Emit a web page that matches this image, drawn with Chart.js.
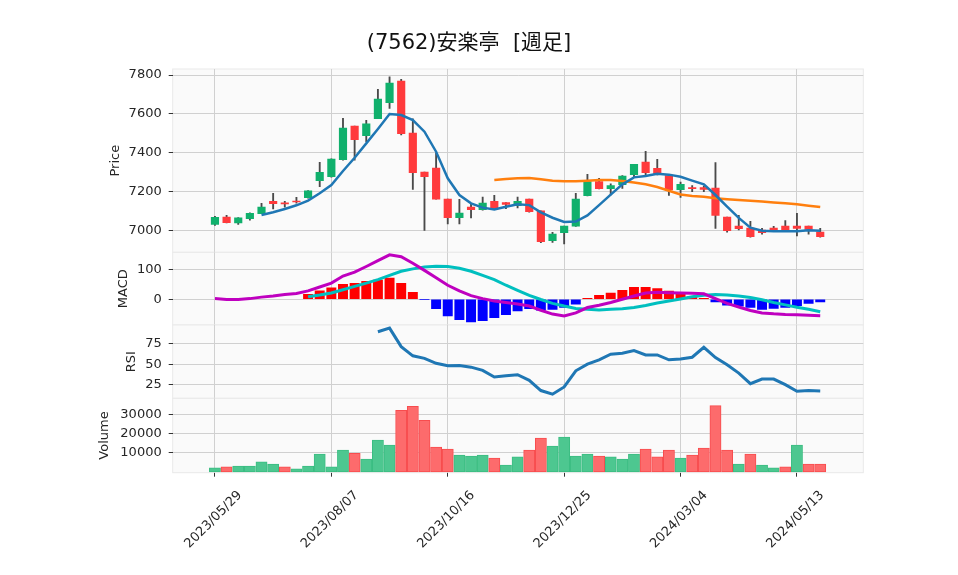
<!DOCTYPE html>
<html><head><meta charset="utf-8">
<script src="https://cdn.jsdelivr.net/npm/chart.js@4/dist/chart.umd.min.js"></script>
<style>
html,body{margin:0;padding:0;background:#fff;}
#wrap{position:relative;width:958px;height:575px;overflow:hidden;}
#wrap canvas{position:absolute;left:0;top:0;}
</style></head><body>
<div id="wrap">
<canvas id="cPrice" width="958" height="575"></canvas>
<canvas id="cMacd" width="958" height="575"></canvas>
<canvas id="cRsi" width="958" height="575"></canvas>
<canvas id="cVol" width="958" height="575"></canvas>
</div>
<script>
// ---------- data ----------
const dates = ['2023/05/29','2023/06/05','2023/06/12','2023/06/19','2023/06/26','2023/07/03','2023/07/10','2023/07/17','2023/07/24','2023/07/31',
'2023/08/07','2023/08/14','2023/08/21','2023/08/28','2023/09/04','2023/09/11','2023/09/18','2023/09/25','2023/10/02','2023/10/09',
'2023/10/16','2023/10/23','2023/10/30','2023/11/06','2023/11/13','2023/11/20','2023/11/27','2023/12/04','2023/12/11','2023/12/18',
'2023/12/25','2024/01/01','2024/01/08','2024/01/15','2024/01/22','2024/01/29','2024/02/05','2024/02/12','2024/02/19','2024/02/26',
'2024/03/04','2024/03/11','2024/03/18','2024/03/25','2024/04/01','2024/04/08','2024/04/15','2024/04/22','2024/04/29','2024/05/06',
'2024/05/13','2024/05/20','2024/05/27'];
const xTickIndex = [0,10,20,30,40,50];

const opens  = [7030,7069,7038,7060,7086,7149,7142,7151,7168,7256,7276,7364,7537,7488,7575,7658,7769,7501,7300,7321,
                7161,7065,7120,7106,7149,7143,7127,7161,7100,6947,6988,7022,7179,7251,7215,7235,7287,7352,7319,7282,
                7209,7220,7220,7218,7069,7022,7012,7002,7012,7022,7022,7022,6991];
const highs  = [7072,7077,7066,7090,7139,7191,7149,7170,7205,7350,7369,7577,7537,7567,7726,7791,7778,7575,7300,7397,
                7161,7160,7139,7172,7180,7143,7172,7161,7100,6990,7022,7191,7288,7268,7239,7282,7340,7407,7366,7282,
                7249,7230,7228,7349,7069,7077,7046,7010,7021,7051,7088,7022,7010];
const lows   = [7025,7038,7031,7052,7086,7110,7120,7140,7166,7225,7274,7362,7362,7457,7575,7628,7491,7211,7000,7160,
                7033,7033,7064,7104,7110,7112,7115,7094,6937,6938,6930,7020,7177,7213,7182,7216,7273,7280,7286,7180,
                7170,7199,7199,7010,6991,7002,6965,6981,7000,6999,6971,6981,6965];
const closes = [7067,7040,7064,7088,7120,7137,7136,7146,7203,7299,7367,7527,7467,7548,7676,7759,7498,7297,7276,7160,
                7065,7089,7106,7141,7112,7134,7149,7096,6942,6981,7022,7161,7251,7215,7230,7280,7340,7297,7288,7208,
                7237,7215,7211,7077,6998,7009,6967,6988,7003,7001,7010,7005,6967];
const ma5 = [null,null,null,null,7079,7093,7110,7129,7153,7191,7233,7306,7374,7448,7522,7599,7594,7568,7508,7405,
             7268,7182,7139,7117,7108,7122,7134,7130,7093,7065,7043,7045,7077,7130,7184,7237,7273,7280,7292,7287,
             7276,7256,7237,7182,7122,7064,7014,6998,6995,6995,6995,7000,6998];
const ma25 = [null,null,null,null,null,null,null,null,null,null,null,null,null,null,null,null,null,null,null,null,
              null,null,null,null,7259,7264,7268,7270,7263,7256,7253,7253,7256,7259,7259,7254,7247,7237,7223,7204,
              7185,7177,7173,7165,7160,7156,7153,7149,7144,7139,7134,7127,7120];
const macd = [2,-1,-1,2,7,11,16,19,28,41,54,78,91,110,130,149,143,121,97,72,
              47,28,12,2,-6,-11,-16,-23,-37,-50,-56,-46,-28,-20,-11,0,11,21,23,22,
              21,20,18,2,-14,-26,-38,-46,-49,-51,-52,-54,-56];
const signal = [null,null,null,null,null,null,null,null,8,14,21,32,43,54,66,80,94,102,108,111,
                110,104,94,80,66,47,30,13,-1,-14,-23,-31,-34,-36,-34,-32,-28,-21,-13,-6,
                1,8,13,16,14,11,6,-2,-11,-19,-27,-34,-42];
const hist = [null,null,null,null,null,null,null,null,16,28,38,50,53,60,64,71,53,23,-1,-32,
              -56,-69,-76,-72,-62,-52,-39,-32,-37,-34,-28,-17,3,13,21,30,40,40,36,27,
              16,8,3,-9,-20,-23,-28,-34,-31,-28,-22,-14,-9];
const rsi = [null,null,null,null,null,null,null,null,null,null,null,null,null,null,88.9,93.3,71,60,57,51,
             48,48.4,46.4,42.5,34.5,36,37.3,30.6,18.3,13.9,22.6,42,50,55.2,61.9,63.1,66.3,61.1,61.1,55.2,
             56.3,58.3,70.2,57.9,49.2,39.3,26.6,32.1,32.1,25.4,17.5,18.3,17.9];
const volume = [2100,2600,3100,3100,5200,4100,2600,1600,3100,9300,2600,11400,9700,6700,16600,14000,32100,34100,26900,12900,
                11900,8800,8300,8800,7200,3600,7800,11400,17600,13400,18100,8300,9300,8300,7800,6700,9300,11900,7800,11400,
                7200,8800,12400,34500,11400,4100,9300,3600,2100,2600,14000,4100,4100];
const priceTicks = [7000,7200,7400,7600,7800];
const macdTicks = [0,100];
const rsiTicks = [25,50,75];
const volTicks = [10000,20000,30000];
const chartTitle = '(7562)安楽亭  [週足]';

// ---------- layout / style ----------
const FONT = '"DejaVu Sans", "Noto Sans CJK JP", sans-serif';
const GRID = '#d0d0d0';
const X_MIN = -3.63, X_MAX = 55.7;
const AREA_LEFT = 172.7, PAD_RIGHT = 94.7, H = 575;

const panelPlugin = {
  id: 'panel',
  beforeDraw(chart) {
    const {ctx, chartArea: a} = chart;
    ctx.save();
    ctx.fillStyle = '#fafafa';
    ctx.fillRect(a.left, a.top, a.right - a.left, a.bottom - a.top);
    ctx.strokeStyle = '#e9e9e9';
    ctx.lineWidth = 1;
    ctx.strokeRect(a.left, a.top, a.right - a.left, a.bottom - a.top);
    ctx.restore();
  }
};
const titlePlugin = {
  id: 'mainTitle',
  afterDraw(chart) {
    const ctx = chart.ctx;
    ctx.save();
    ctx.font = '21px ' + FONT;
    ctx.fillStyle = '#111';
    ctx.textAlign = 'center';
    ctx.textBaseline = 'alphabetic';
    ctx.fillText(chartTitle, 469, 48.5);
    ctx.restore();
  }
};

function xAxis(showLabels) {
  return {
    type: 'linear', min: X_MIN, max: X_MAX, offset: false,
    afterBuildTicks: s => { s.ticks = xTickIndex.map(v => ({value: v})); },
    afterFit: s => { s.height = showLabels ? 102.3 : 0; s.paddingLeft = 0; s.paddingRight = 0; },
    grid: {color: GRID, lineWidth: 1, offset: false, drawTicks: showLabels, tickLength: 4, tickColor: '#333'},
    border: {display: false},
    ticks: {display: showLabels, autoSkip: false, minRotation: 45, maxRotation: 45,
            padding: 11, labelOffset: 25, color: '#262626', font: {family: FONT, size: 13},
            callback: v => dates[v]}
  };
}
function yAxis(min, max, ticks, title, width) {
  return {
    type: 'linear', position: 'left', min, max,
    afterBuildTicks: s => { s.ticks = ticks.map(v => ({value: v})); },
    afterFit: s => { s.width = width; s.paddingTop = 0; s.paddingBottom = 0; },
    grid: {color: GRID, lineWidth: 1, drawTicks: true, tickLength: 4, tickColor: '#333'},
    border: {display: false},
    ticks: {padding: 7, color: '#262626', font: {family: FONT, size: 13}, callback: v => String(v)},
    title: {display: true, text: title, padding: 0, color: '#262626', font: {family: FONT, size: 13}}
  };
}
function baseOptions(titleX, top, bottom) {
  const left = titleX - 7.8;
  return {
    left,
    width: AREA_LEFT - left,
    options: {
      responsive: false, animation: false, devicePixelRatio: 1,
      layout: {padding: {left, right: PAD_RIGHT, top, bottom}},
      plugins: {legend: {display: false}, tooltip: {enabled: false}, title: {display: false}},
      events: []
    }
  };
}
const pts = arr => arr.map((v, i) => ({x: i, y: v}));

// ---------- price ----------
{
  const b = baseOptions(115.8, 69, H - 252.3);
  b.options.scales = {x: xAxis(false), y: yAxis(6887, 7831, priceTicks, 'Price', b.width)};
  new Chart(document.getElementById('cPrice'), {
    type: 'bar',
    data: {datasets: [
      {type: 'line', data: pts(ma5), borderColor: '#1f77b4', borderWidth: 2.5, pointRadius: 0, tension: 0, order: 0},
      {type: 'line', data: pts(ma25), borderColor: '#ff7f0e', borderWidth: 2.5, pointRadius: 0, tension: 0, order: 0},
      {data: opens.map((o, i) => ({x: i, y: [o, closes[i]]})),
       backgroundColor: opens.map((o, i) => closes[i] >= o ? '#10b06c' : '#ff3a3c'),
       borderWidth: 0, barThickness: 7.5, grouped: false, order: 1},
      {data: lows.map((l, i) => ({x: i, y: [l, highs[i]]})),
       backgroundColor: '#4a4a4a', borderWidth: 0, barThickness: 1.2, grouped: false, order: 2}
    ]},
    options: b.options,
    plugins: [panelPlugin, titlePlugin]
  });
}
// ---------- MACD ----------
{
  const b = baseOptions(123.8, 252.3, H - 325);
  b.options.scales = {x: xAxis(false), y: yAxis(-86.7, 157.7, macdTicks, 'MACD', b.width)};
  new Chart(document.getElementById('cMacd'), {
    type: 'bar',
    data: {datasets: [
      {type: 'line', data: pts(macd), borderColor: '#bf00bf', borderWidth: 3, pointRadius: 0, tension: 0, order: 0},
      {type: 'line', data: pts(signal), borderColor: '#00bfbf', borderWidth: 3, pointRadius: 0, tension: 0, order: 0},
      {data: pts(hist), backgroundColor: hist.map(v => (v !== null && v < 0) ? '#0000ff' : '#ff0000'),
       borderWidth: 0, barThickness: 9.3, grouped: false, order: 1}
    ]},
    options: b.options,
    plugins: [panelPlugin]
  });
}
// ---------- RSI ----------
{
  const b = baseOptions(132, 325, H - 398.3);
  b.options.scales = {x: xAxis(false), y: yAxis(9, 97, rsiTicks, 'RSI', b.width)};
  new Chart(document.getElementById('cRsi'), {
    type: 'line',
    data: {datasets: [
      {data: pts(rsi), borderColor: '#1f77b4', borderWidth: 3, pointRadius: 0, tension: 0}
    ]},
    options: b.options,
    plugins: [panelPlugin]
  });
}
// ---------- Volume ----------
{
  const b = baseOptions(104.7, 398.3, 0);
  b.options.scales = {x: xAxis(true), y: yAxis(-400, 38300, volTicks, 'Volume', b.width)};
  const up = closes.map((c, i) => i === 0 || c >= closes[i - 1]);
  new Chart(document.getElementById('cVol'), {
    type: 'bar',
    data: {datasets: [
      {data: pts(volume),
       backgroundColor: up.map(u => u ? '#4dc790' : '#fd6b6c'),
       borderColor: up.map(u => u ? '#3bbd82' : '#f84c4e'),
       borderWidth: 1, borderSkipped: false, barThickness: 11.2, grouped: false}
    ]},
    options: b.options,
    plugins: [panelPlugin]
  });
}
</script>
</body></html>
